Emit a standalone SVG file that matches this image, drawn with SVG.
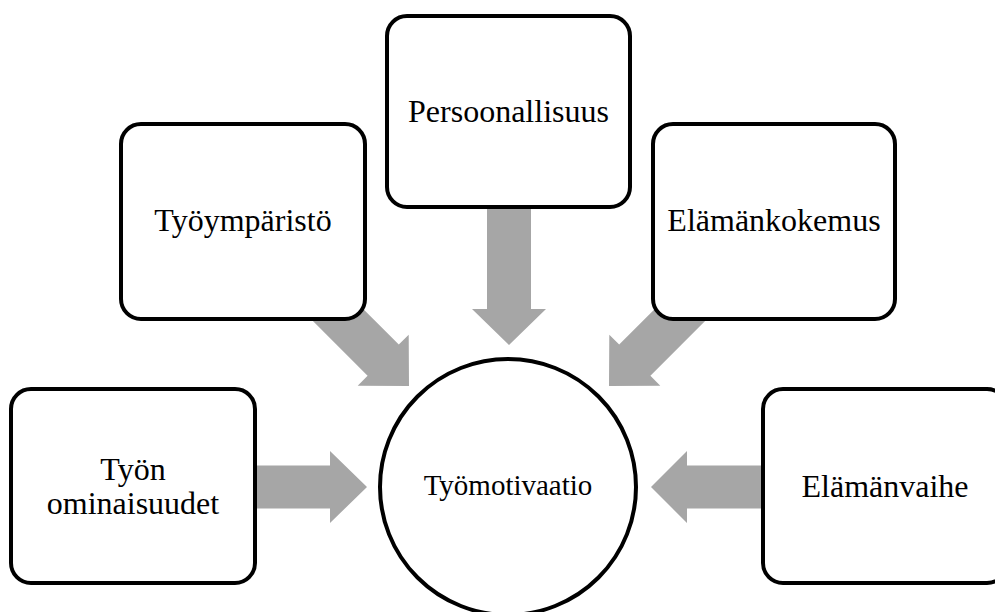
<svg xmlns="http://www.w3.org/2000/svg" width="995" height="612" viewBox="0 0 995 612">
<style>
.box{fill:#fff;stroke:#000;stroke-width:4}
.arr{fill:#A6A6A6;stroke:none}
.lbl{font-family:"Liberation Serif","Times New Roman",serif;font-size:32px;fill:#000;text-anchor:middle}
.clbl{font-family:"Liberation Serif","Times New Roman",serif;font-size:29px;fill:#000;text-anchor:middle}
</style>
<rect width="995" height="612" fill="#fff"/>
<g id="connectors">
  <polygon class="arr" points="240,465.5 330,465.5 330,451 367,487 330,523 330,508.5 240,508.5"/>
  <polygon class="arr" points="780,465.5 687,465.5 687,451 651,487 687,523 687,508.5 780,508.5"/>
  <polygon class="arr" points="487,190 531,190 531,309 546,309 509,345 472,309 487,309"/>
  <polygon class="arr" points="328.1,273.9 398.8,344.6 408.7,334.7 409,386 357.7,385.7 367.6,375.8 296.9,305.1"/>
  <polygon class="arr" points="689.9,273.9 619.2,344.6 609.3,334.7 609,386 660.3,385.7 650.4,375.8 721.1,305.1"/>
</g>
<g id="node-tyomotivaatio">
  <circle class="box" cx="508" cy="487" r="128"/>
  <text class="clbl" x="508" y="495">Työmotivaatio</text>
</g>
<g id="node-persoonallisuus">
  <rect class="box" x="387" y="16" width="243" height="191" rx="20"/>
  <text class="lbl" x="508.5" y="122">Persoonallisuus</text>
</g>
<g id="node-tyoymparisto">
  <rect class="box" x="121" y="124" width="244" height="195" rx="20"/>
  <text class="lbl" x="243" y="231">Työympäristö</text>
</g>
<g id="node-elamankokemus">
  <rect class="box" x="653" y="124" width="242" height="195" rx="20"/>
  <text class="lbl" x="774" y="231">Elämänkokemus</text>
</g>
<g id="node-tyon-ominaisuudet">
  <rect class="box" x="11" y="389" width="244" height="194" rx="20"/>
  <text class="lbl" x="133" y="480">Työn</text>
  <text class="lbl" x="133" y="514">ominaisuudet</text>
</g>
<g id="node-elamanvaihe">
  <rect class="box" x="763" y="389" width="244" height="194" rx="20"/>
  <text class="lbl" x="885" y="497">Elämänvaihe</text>
</g>
</svg>
